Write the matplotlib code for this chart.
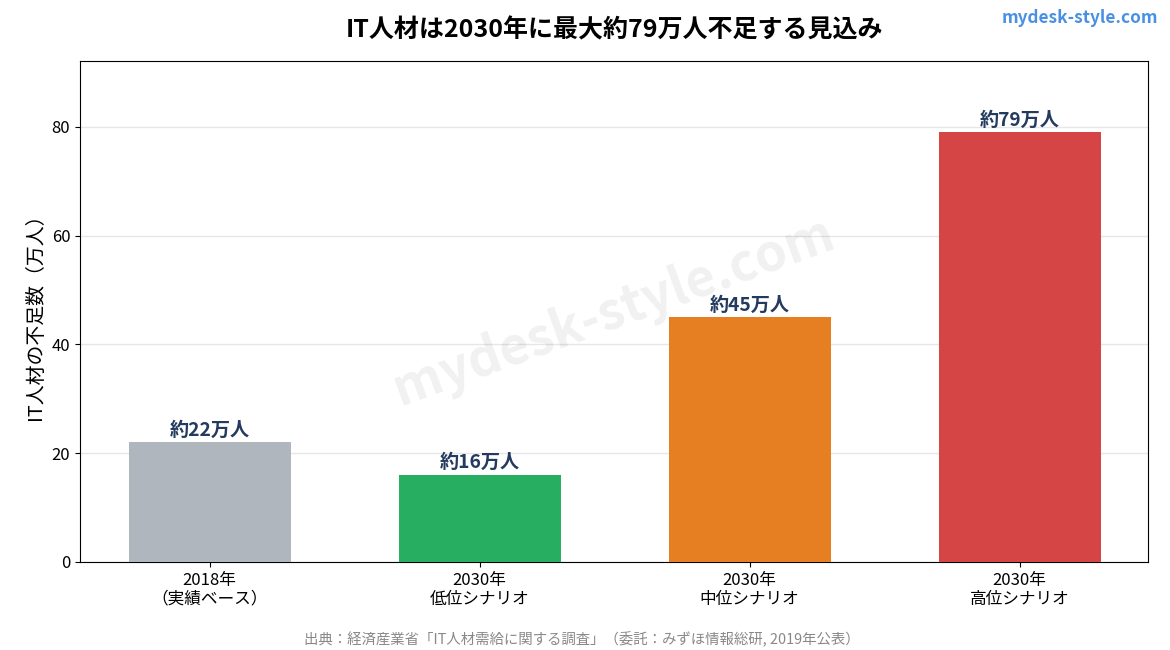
import matplotlib
matplotlib.use("Agg")
import matplotlib.pyplot as plt

plt.rcParams['font.family'] = ['Noto Sans CJK JP', 'DejaVu Sans']

categories = ["2018年\n（実績ベース）", "2030年\n低位シナリオ", "2030年\n中位シナリオ", "2030年\n高位シナリオ"]
values = [22, 16, 45, 79]
labels = ["約22万人", "約16万人", "約45万人", "約79万人"]
colors = ["#b0b6be", "#27ae60", "#e67e22", "#d64545"]

fig = plt.figure(figsize=(11.7, 6.5), dpi=100)
ax = fig.add_axes([80/1170, 1-562/650, (1148-80)/1170, (562-61)/650])

x = range(len(values))
bars = ax.bar(x, values, width=0.6, color=colors, zorder=3)
for xi, v, lab in zip(x, values, labels):
    ax.text(xi, v + 0.5, lab, ha='center', va='bottom', fontsize=13.8, fontweight='bold', color='#243a5e', zorder=4)

ax.set_xlim(-0.48, 3.475)
ax.set_ylim(0, 92.1)
ax.set_yticks([0, 20, 40, 60, 80])
ax.set_xticks(list(x))
ax.set_xticklabels(categories, fontsize=12, linespacing=1.15)
ax.tick_params(axis='y', labelsize=12)
ax.grid(axis='y', color='#e6e6e6', linewidth=1, zorder=0)
ax.set_axisbelow(True)
ax.set_ylabel("IT人材の不足数（万人）", fontsize=14.3)

ax.text(0.5, 0.5, "mydesk-style.com", transform=ax.transAxes, fontsize=37, fontweight='bold',
        color='#000000', alpha=0.06, rotation=20, ha='center', va='center', zorder=2)

fig.text(614/1170, 1-30/650, "IT人材は2030年に最大約79万人不足する見込み", ha='center', va='center',
         fontsize=18, fontweight='bold')
fig.text(1158/1170, 1-18/650, "mydesk-style.com", ha='right', va='center', fontsize=12.4,
         fontweight='bold', color='#4a90e2')
fig.text(582/1170, 1-640/650, "出典：経済産業省「IT人材需給に関する調査」（委託：みずほ情報総研, 2019年公表）",
         ha='center', va='center', fontsize=10.4, color='#888888')

fig.savefig("out.png", dpi=100)
